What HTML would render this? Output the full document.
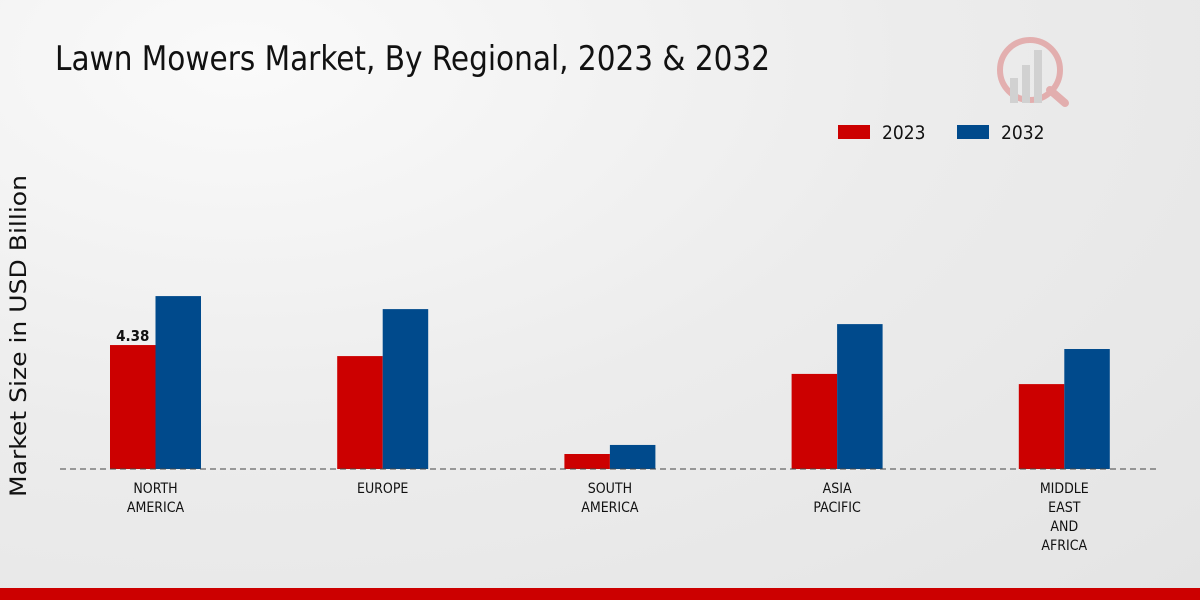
<!DOCTYPE html>
<html><head><meta charset="utf-8"><style>
body{margin:0;width:1200px;height:600px;overflow:hidden;background:radial-gradient(ellipse at 20% 10%,#fafafa 0%,#ececec 50%,#e4e4e4 100%);font-family:"DejaVu Sans Condensed","Liberation Sans",sans-serif}
svg{position:absolute;left:0;top:0}
</style></head><body>
<svg width="1200" height="600">
<text x="55" y="70" font-size="34" fill="#111" textLength="715" lengthAdjust="spacingAndGlyphs" style="font-family:'DejaVu Sans Condensed',sans-serif">Lawn Mowers Market, By Regional, 2023 &amp; 2032</text>
<g opacity="0.25">
<circle cx="1030" cy="70" r="30" fill="none" stroke="#c00" stroke-width="6"/>
<rect x="1010" y="78" width="8" height="25" fill="#888"/><rect x="1022" y="65" width="8" height="38" fill="#888"/><rect x="1034" y="50" width="8" height="53" fill="#888"/>
<line x1="1050" y1="90" x2="1065" y2="103" stroke="#c00" stroke-width="8" stroke-linecap="round"/>
</g>
<g style="font-family:'DejaVu Sans Condensed',sans-serif">
<rect x="838" y="125" width="32" height="14" fill="#cc0000"/>
<text x="882" y="139" font-size="19" fill="#111">2023</text>
<rect x="957" y="125" width="32" height="14" fill="#004a8c"/>
<text x="1001" y="139" font-size="19" fill="#111">2032</text>
</g>
<text transform="translate(26,336) rotate(-90)" text-anchor="middle" font-size="22" fill="#111" textLength="322" lengthAdjust="spacingAndGlyphs" style="font-family:'DejaVu Sans',sans-serif">Market Size in USD Billion</text>
<g id="bars"></g>
<line x1="60" y1="469" x2="1160" y2="469" stroke="#444" stroke-dasharray="6,4"/>
<g id="labels" style="font-family:'DejaVu Sans Condensed',sans-serif"></g>
<rect x="0" y="588" width="1200" height="12" fill="#cc0000"/>
</svg>
<script>
const categories=[["NORTH","AMERICA"],["EUROPE"],["SOUTH","AMERICA"],["ASIA","PACIFIC"],["MIDDLE","EAST","AND","AFRICA"]];
const values2023=[4.38,3.99,0.53,3.36,3.0];
const values2032=[6.11,5.65,0.85,5.12,4.24];
const ns="http://www.w3.org/2000/svg";
const base=469,scale=28.3,x0=155.5,step=227.2,bw=45.5;
const y=v=>base-v*scale, cx=i=>x0+i*step;
const bars=document.getElementById('bars'),labels=document.getElementById('labels');
function mk(t,a){const e=document.createElementNS(ns,t);for(const k in a)e.setAttribute(k,a[k]);return e;}
categories.forEach((c,i)=>{
 const r=mk('rect',{x:cx(i)-bw,y:y(values2023[i]),width:bw,height:values2023[i]*scale,fill:'#cc0000'});
 
 
 bars.appendChild(r);
 const b=mk('rect',{x:cx(i),y:y(values2032[i]),width:bw,height:values2032[i]*scale,fill:'#004a8c'});
 
 
 bars.appendChild(b);
 c.forEach((l,j)=>{
  const t=mk('text',{x:cx(i),y:493+j*19,'text-anchor':'middle','font-size':'14',fill:'#111'});
  t.textContent=l;
  
  
  labels.appendChild(t);
 });
});
const v=mk('text',{x:cx(0)-bw/2,y:y(values2023[0])-4,'text-anchor':'middle','font-size':'15','font-weight':'bold',fill:'#111'});
v.textContent=values2023[0];


labels.appendChild(v);
</script>
</body></html>
